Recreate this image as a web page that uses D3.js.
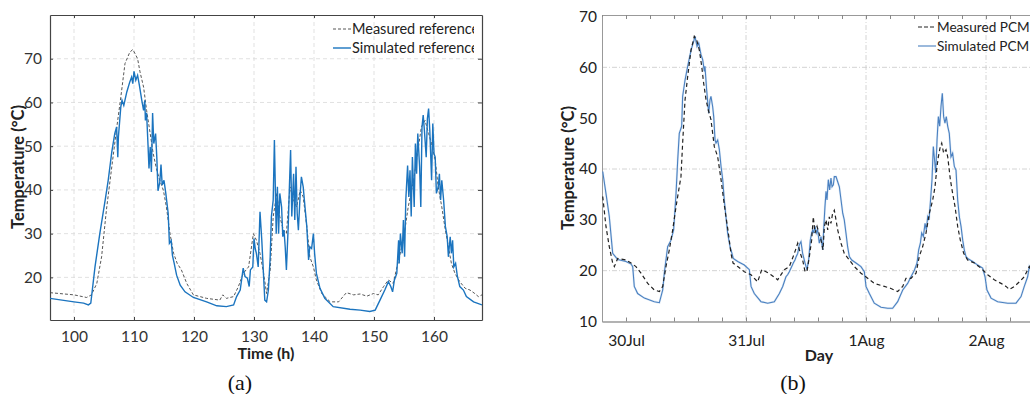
<!DOCTYPE html>
<html><head><meta charset="utf-8">
<script src="https://cdn.jsdelivr.net/npm/d3@7"></script>
<style>body{margin:0;background:#fff}svg{display:block}</style>
</head><body><svg id="c" width="1030" height="394"></svg>
<script>
// ---------- Panel (a): reference ----------
const aHoursSim = [96.0,100.0,101.6,102.4,102.8,103.5,104.3,105.2,105.7,106.3,106.8,107.1,107.3,107.4,107.8,108.0,108.3,108.8,109.3,109.6,109.8,110.0,110.3,110.6,110.9,111.3,111.6,111.8,111.9,112.1,112.3,112.5,112.7,112.9,113.1,113.3,113.6,113.8,114.0,114.3,114.5,114.7,115.0,115.3,115.7,115.9,116.2,116.4,116.7,117.1,117.7,118.5,119.9,122.1,123.8,125.4,126.6,127.1,127.7,128.2,128.5,128.9,129.2,129.4,129.8,130.0,130.2,130.4,130.7,131.0,131.3,131.6,131.8,132.1,132.4,132.7,132.9,133.2,133.4,133.7,133.9,134.1,134.3,134.6,134.8,135.0,135.2,135.4,135.7,135.9,136.1,136.3,136.6,136.8,137.0,137.2,137.4,137.7,137.9,138.2,138.5,138.8,139.1,139.3,139.6,139.9,140.1,140.4,141.0,141.8,143.2,146.0,147.7,149.3,150.2,151.0,151.8,152.4,152.8,153.1,153.4,153.8,154.1,154.2,154.4,154.7,154.9,155.1,155.3,155.6,155.8,156.0,156.2,156.4,156.7,156.9,157.1,157.3,157.6,157.8,158.0,158.2,158.4,158.7,158.9,159.1,159.3,159.6,159.8,160.0,160.2,160.4,160.7,160.9,161.1,161.3,161.6,161.9,162.2,162.4,162.7,162.9,163.1,163.3,163.6,163.9,164.3,164.9,165.4,166.6,168.0];
const aTempSim = [15.2,14.4,14.1,13.7,14.1,22.4,30.0,37.7,42.2,48.7,52.9,54.4,47.5,52.1,59.0,60.5,59.3,62.4,64.7,65.8,64.3,67.1,65.1,66.2,63.9,60.5,58.2,60.5,55.9,57.6,51.4,44.9,49.8,44.1,57.6,50.6,52.9,47.5,39.8,41.8,45.8,41.1,42.2,39.2,34.6,27.8,28.4,25.1,23.2,20.5,18.2,16.7,15.4,14.4,13.5,13.3,13.7,15.6,17.1,22.1,20.2,19.8,17.9,21.7,22.4,28.9,26.6,25.5,22.4,35.0,28.5,20.2,14.8,14.4,17.1,24.7,33.9,37.7,51.4,30.0,40.7,30.0,39.2,36.1,29.3,30.8,27.0,21.7,31.6,40.7,49.1,33.9,43.7,33.1,45.3,34.6,30.8,39.2,43.0,40.7,36.1,31.6,24.0,27.0,26.6,30.0,25.5,20.9,17.5,15.2,13.3,12.7,12.5,12.2,12.5,14.8,17.1,19.0,17.9,16.7,19.4,20.9,28.5,23.2,30.0,25.5,33.1,24.7,37.7,45.6,38.4,44.5,33.9,47.5,36.1,50.6,43.7,52.9,45.3,36.1,54.4,57.1,53.6,47.5,56.3,58.6,53.6,42.2,55.2,48.3,47.5,39.2,40.7,43.7,37.7,42.2,37.7,31.6,29.3,24.7,29.3,25.5,28.5,22.4,23.2,20.2,17.9,17.1,15.6,14.4,13.7];
const aHoursMeas = [96,100,102.1,102.9,103.8,104.6,105.4,106.3,107.1,107.8,108.5,109.3,109.8,110.2,110.6,111.0,111.6,112.1,112.7,113.2,113.8,114.3,114.9,115.4,116.0,116.6,117.2,117.9,118.8,119.9,122.1,124.3,124.8,125.4,126.6,127.4,128.2,129.1,129.9,130.4,131.0,131.6,132.1,132.7,133.2,133.8,134.3,134.9,135.4,136.0,136.6,137.1,137.7,138.2,138.8,139.3,139.9,140.4,141.3,142.7,144.1,145.4,146.6,147.7,148.8,149.9,150.7,151.6,152.4,153.2,154.1,154.9,155.7,156.6,157.4,157.9,158.5,159.1,159.6,160.2,160.7,161.3,161.8,162.4,162.9,163.5,164.3,165.2,166.0,166.8,167.4,168.0];
const aTempMeas = [16.5,16.0,15.4,16.0,18.6,24.7,35.4,45.3,54.0,61.2,68.9,71.5,72.1,71.1,70.0,67.0,63.5,58.2,52.9,48.3,44.5,42.2,39.9,36.1,30.0,25.5,23.2,21.7,18.6,16.0,15.2,14.8,16.0,15.2,15.6,17.9,20.9,22.4,30.0,28.5,25.5,20.9,16.3,21.7,33.9,39.2,33.9,30.8,30.0,40.7,37.7,36.1,39.9,38.4,31.6,24.7,22.4,19.4,16.3,14.4,14.4,16.5,16.0,16.2,15.7,16.3,16.0,17.9,19.4,18.6,24.0,28.5,36.1,42.2,49.8,54.4,55.9,52.9,50.6,46.8,40.7,36.1,31.6,27.0,23.2,20.9,19.0,17.5,17.1,16.3,15.6,16.0];
const aXTicks = [100,110,120,130,140,150,160];
const aYTicks = [20,30,40,50,60,70];
const aLegend = ["Measured reference","Simulated reference"];

// ---------- Panel (b): PCM (days since 30 Jul 00:00) ----------
const bDaySim = [-0.194,-0.167,-0.139,-0.111,-0.069,0,0.042,0.056,0.069,0.097,0.153,0.236,0.278,0.306,0.319,0.347,0.375,0.397,0.417,0.431,0.444,0.464,0.472,0.492,0.514,0.542,0.564,0.575,0.592,0.606,0.625,0.639,0.653,0.658,0.672,0.689,0.700,0.708,0.722,0.731,0.742,0.750,0.764,0.778,0.792,0.806,0.819,0.833,0.847,0.867,0.883,0.894,0.931,0.986,1.028,1.042,1.069,1.125,1.181,1.236,1.278,1.306,1.333,1.347,1.361,1.381,1.394,1.408,1.419,1.431,1.444,1.458,1.472,1.492,1.508,1.522,1.536,1.547,1.556,1.564,1.575,1.586,1.597,1.611,1.625,1.639,1.647,1.658,1.667,1.675,1.686,1.697,1.708,1.717,1.728,1.736,1.750,1.764,1.778,1.792,1.806,1.819,1.833,1.847,1.861,1.881,1.917,1.958,1.986,2.000,2.028,2.069,2.125,2.181,2.222,2.264,2.306,2.347,2.375,2.403,2.425,2.439,2.453,2.464,2.478,2.492,2.503,2.514,2.525,2.536,2.550,2.561,2.569,2.581,2.592,2.603,2.614,2.625,2.636,2.647,2.658,2.669,2.681,2.694,2.708,2.722,2.736,2.750,2.764,2.778,2.792,2.806,2.819,2.833,2.847,2.889,2.931,2.972,2.992,3.008,3.042,3.097,3.181,3.250,3.292,3.319,3.347,3.361,3.375];
const bTempSim = [39.5,35.2,30.6,23.4,22.2,21.8,21.3,20.8,16.9,15.5,14.6,13.9,13.7,16.2,19.5,24.7,26.0,28.0,35.2,41.8,47.0,48.4,54.3,57.5,60.2,63.4,65.1,66.1,64.1,64.8,62.5,61.5,59.2,60.2,55.6,51.0,53.6,54.3,52.3,50.3,45.7,45.1,45.7,43.8,40.5,37.9,33.9,30.6,27.4,24.7,23.4,22.4,21.8,21.1,20.2,16.9,15.5,13.9,13.6,13.9,15.5,16.9,18.8,19.2,19.8,20.8,21.5,22.1,22.8,23.4,25.1,25.7,23.4,21.5,20.2,22.1,26.0,27.4,28.0,27.4,28.7,27.4,28.0,25.4,26.7,24.1,28.0,32.6,35.6,33.9,37.9,35.9,38.2,36.5,36.9,38.5,38.5,37.5,36.5,33.9,31.3,30.0,27.4,24.7,22.8,22.1,21.5,20.8,19.8,16.9,15.5,13.6,12.8,12.6,12.6,13.9,16.2,17.5,18.8,20.1,21.5,24.1,25.4,27.4,26.7,29.3,28.0,30.6,30.0,33.3,37.9,44.4,42.4,39.2,45.7,50.3,48.4,52.3,54.9,50.3,49.0,50.3,48.4,47.0,42.4,43.1,40.5,39.8,33.9,30.6,28.7,26.0,24.1,22.8,22.4,21.8,21.1,20.5,18.8,16.2,14.6,13.9,13.6,13.6,14.9,16.9,18.8,20.8,20.2];
const bDayMeas = [-0.194,-0.167,-0.139,-0.111,-0.097,-0.069,0,0.042,0.083,0.125,0.181,0.236,0.278,0.306,0.333,0.361,0.389,0.417,0.444,0.458,0.472,0.492,0.514,0.542,0.569,0.589,0.611,0.631,0.647,0.667,0.686,0.708,0.736,0.764,0.792,0.814,0.833,0.853,0.875,0.892,0.931,0.986,1.042,1.097,1.131,1.167,1.208,1.264,1.319,1.361,1.403,1.431,1.453,1.472,1.492,1.508,1.528,1.547,1.561,1.575,1.592,1.608,1.625,1.642,1.653,1.667,1.681,1.694,1.708,1.722,1.736,1.750,1.764,1.792,1.819,1.861,1.903,1.958,2.014,2.069,2.153,2.208,2.264,2.306,2.333,2.375,2.417,2.444,2.472,2.500,2.528,2.556,2.575,2.592,2.603,2.619,2.631,2.647,2.667,2.681,2.703,2.722,2.742,2.764,2.786,2.814,2.847,2.903,2.958,3.014,3.069,3.125,3.167,3.194,3.236,3.278,3.319,3.361,3.375];
const bTempMeas = [34.6,28.7,24.7,21.5,20.8,22.4,22.1,21.5,20.8,19.5,17.5,16.2,15.9,16.9,20.8,24.1,28.0,32.6,36.5,38.5,45.1,53.6,58.2,63.4,66.1,65.4,63.4,60.2,56.9,53.6,51.6,49.7,44.4,42.4,37.9,33.9,30.6,27.4,23.4,21.5,20.8,19.8,19.2,17.8,20.2,19.8,19.2,18.2,20.2,20.8,23.4,25.4,23.4,22.1,19.8,19.8,22.8,26.0,30.6,27.4,28.7,27.4,26.0,24.1,28.7,30.0,28.0,30.6,29.3,31.3,31.9,30.0,28.0,25.4,23.4,22.1,20.8,19.5,18.5,17.5,16.9,16.5,15.9,16.9,18.5,18.5,19.5,22.8,24.7,27.4,31.3,33.9,36.5,40.5,42.4,44.4,45.1,43.1,43.8,42.4,37.9,35.2,32.6,28.7,26.0,23.4,22.1,21.5,20.5,19.2,18.2,17.5,16.9,16.3,16.9,17.8,18.8,20.8,20.2];
const bXTicks = [0,1,2,3];
const bXLabels = ["30Jul","31Jul","1Aug","2Aug"];
const bYTicks = [10,20,30,40,50,60,70];
const bLegend = ["Measured PCM","Simulated PCM"];

const svg = d3.select("#c");
const SANS = "Lato, 'Open Sans', sans-serif";
const SERIF = "'Liberation Serif', 'DejaVu Serif', serif";

// ===== Panel (a) =====
(function(){
  const L=50,R=482,T=15,B=320;
  const x=d3.scaleLinear().domain([96,168]).range([L,R]);
  const y=d3.scaleLinear().domain([10.25,80]).range([B,T]);
  const g=svg.append("g");
  g.append("defs").append("clipPath").attr("id","clipA").append("rect").attr("x",L).attr("y",T).attr("width",R-L).attr("height",B-T);
  g.append("defs").append("clipPath").attr("id","clipALeg").append("rect").attr("x",L).attr("y",T).attr("width",474-L).attr("height",B-T);
  const grid=g.append("g").attr("stroke","#d9d9d9").attr("stroke-dasharray","4,3").attr("stroke-width",0.8);
  grid.selectAll(".gx").data(aXTicks).join("line").attr("x1",d=>x(d)).attr("x2",d=>x(d)).attr("y1",T).attr("y2",B);
  grid.selectAll(".gy").data(aYTicks).join("line").attr("x1",L).attr("x2",R).attr("y1",d=>y(d)).attr("y2",d=>y(d));
  const ax=g.append("g").attr("transform",`translate(0,${B})`).call(d3.axisBottom(x).tickValues(aXTicks).tickSizeInner(-3).tickSizeOuter(0).tickPadding(11));
  const ay=g.append("g").attr("transform",`translate(${L},0)`).call(d3.axisLeft(y).tickValues(aYTicks).tickSizeInner(-3).tickSizeOuter(0).tickPadding(8));
  const ar=g.append("g").attr("transform",`translate(${R},0)`).call(d3.axisRight(y).tickValues(aYTicks).tickSizeInner(-4).tickSizeOuter(0).tickFormat(""));
  const at=g.append("g").attr("transform",`translate(0,${T})`).call(d3.axisTop(x).tickValues(aXTicks).tickSizeInner(-3).tickSizeOuter(0).tickFormat(""));
  [ax,ay,ar,at].forEach(a=>{a.select(".domain").attr("stroke","#444").attr("stroke-width",1.2);a.selectAll(".tick line").attr("stroke","#444");a.selectAll("text").attr("fill","#333").attr("font-family",SANS).attr("font-size",15.5);});
  const lineM=d3.line().x((d,i)=>x(aHoursMeas[i])).y(d=>y(d));
  const lineS=d3.line().x((d,i)=>x(aHoursSim[i])).y(d=>y(d));
  g.append("path").attr("clip-path","url(#clipA)").attr("d",lineM(aTempMeas)).attr("fill","none").attr("stroke","#444").attr("stroke-width",0.9).attr("stroke-dasharray","3,2");
  g.append("path").attr("clip-path","url(#clipA)").attr("d",lineS(aTempSim)).attr("fill","none").attr("stroke","#1b74bf").attr("stroke-width",1.4);
  const lg=g.append("g").attr("clip-path","url(#clipALeg)");
  lg.append("line").attr("x1",333).attr("x2",351).attr("y1",29).attr("y2",29).attr("stroke","#444").attr("stroke-width",0.9).attr("stroke-dasharray","3,2");
  lg.append("line").attr("x1",333).attr("x2",351).attr("y1",48).attr("y2",48).attr("stroke","#1b74bf").attr("stroke-width",1.4);
  lg.selectAll("text").data(aLegend).join("text").attr("x",352).attr("y",(d,i)=>34+i*18.5).text(d=>d).attr("font-family",SANS).attr("font-size",14.5).attr("fill","#222");
  g.append("text").attr("x",266).attr("y",359).attr("text-anchor","middle").attr("font-family",SANS).attr("font-weight","bold").attr("font-size",16).attr("fill","#222").text("Time (h)");
  g.append("text").attr("transform","translate(24,167) rotate(-90)").attr("text-anchor","middle").attr("font-family",SANS).attr("font-weight","bold").attr("font-size",16.5).attr("fill","#222").text("Temperature (°C)");
  g.append("text").attr("x",240).attr("y",390).attr("text-anchor","middle").attr("font-family",SERIF).attr("font-size",22).attr("fill","#111").text("(a)");
})();

// ===== Panel (b) =====
(function(){
  const L=602,R=1031,T=15,B=321.5;
  const x=d3.scaleLinear().domain([-0.2,3.375]).range([L,R]);
  const y=d3.scaleLinear().domain([10,70]).range([B,T+1.5]);
  const g=svg.append("g");
  g.append("defs").append("clipPath").attr("id","clipB").append("rect").attr("x",L).attr("y",T).attr("width",R-L).attr("height",B-T);
  const grid=g.append("g").attr("stroke","#cfcfcf").attr("stroke-dasharray","5,2,1,2").attr("stroke-width",0.9);
  grid.selectAll(".gx").data(bXTicks.slice(1)).join("line").attr("x1",d=>x(d)).attr("x2",d=>x(d)).attr("y1",T).attr("y2",B);
  grid.selectAll(".gy").data([20,40,60]).join("line").attr("x1",L).attr("x2",R).attr("y1",d=>y(d)).attr("y2",d=>y(d));
  const minor=d3.range(-1,18).map(i=>i*0.2).filter(v=>v>=-0.2&&v<=3.375);
  const ax=g.append("g").attr("transform",`translate(0,${B})`).call(d3.axisBottom(x).tickValues(bXTicks).tickFormat((d,i)=>bXLabels[i]).tickSize(0).tickPadding(13));
  const axm=g.append("g").attr("transform",`translate(0,${B})`).call(d3.axisBottom(x).tickValues(minor).tickSizeInner(-4).tickSizeOuter(0).tickFormat(""));
  const at=g.append("g").attr("transform",`translate(0,${T})`).call(d3.axisTop(x).tickValues(minor).tickSizeInner(-4).tickSizeOuter(0).tickFormat(""));
  const ay=g.append("g").attr("transform",`translate(${L},0)`).call(d3.axisLeft(y).tickValues(bYTicks).tickSizeInner(0).tickSizeOuter(0).tickPadding(5));
  [ax,axm,at,ay].forEach(a=>{a.select(".domain").attr("stroke","#999").attr("stroke-width",1);a.selectAll(".tick line").attr("stroke","#888");a.selectAll("text").attr("fill","#222").attr("font-family",SANS).attr("font-size",15.5);});
  const lineM=d3.line().x((d,i)=>x(bDayMeas[i])).y(d=>y(d));
  const lineS=d3.line().x((d,i)=>x(bDaySim[i])).y(d=>y(d));
  g.append("path").attr("clip-path","url(#clipB)").attr("d",lineS(bTempSim)).attr("fill","none").attr("stroke","#b8d0ea").attr("stroke-width",2.2).attr("opacity",0.45);
  g.append("path").attr("clip-path","url(#clipB)").attr("d",lineS(bTempSim)).attr("fill","none").attr("stroke","#4a80c0").attr("stroke-width",1.1);
  g.append("path").attr("clip-path","url(#clipB)").attr("d",lineM(bTempMeas)).attr("fill","none").attr("stroke","#222").attr("stroke-width",1.2).attr("stroke-dasharray","4,3");
  g.append("line").attr("x1",918).attr("x2",936).attr("y1",27).attr("y2",27).attr("stroke","#222").attr("stroke-width",1.2).attr("stroke-dasharray","4,2");
  g.append("line").attr("x1",918).attr("x2",936).attr("y1",46).attr("y2",46).attr("stroke","#4a80c0").attr("stroke-width",1.1);
  g.selectAll(".lt").data(bLegend).join("text").attr("x",937).attr("y",(d,i)=>32+i*18.5).text(d=>d).attr("font-family",SANS).attr("font-size",13.6).attr("fill","#222");
  g.append("text").attr("x",819).attr("y",361).attr("text-anchor","middle").attr("font-family",SANS).attr("font-weight","bold").attr("font-size",16).attr("fill","#222").text("Day");
  g.append("text").attr("transform","translate(574,168) rotate(-90)").attr("text-anchor","middle").attr("font-family",SANS).attr("font-weight","bold").attr("font-size",16.5).attr("fill","#222").text("Temperature (°C)");
  g.append("text").attr("x",793).attr("y",390).attr("text-anchor","middle").attr("font-family",SERIF).attr("font-size",22).attr("fill","#111").text("(b)");
})();
</script></body></html>
